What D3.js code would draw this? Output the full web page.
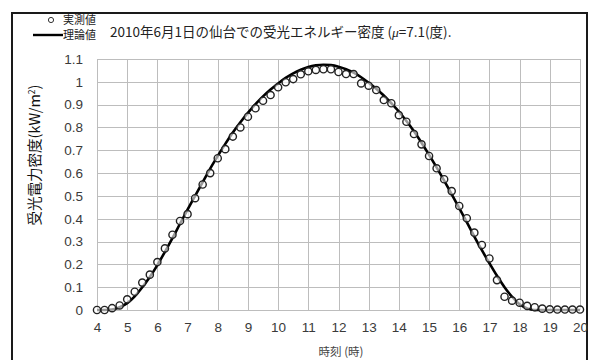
<!DOCTYPE html>
<html>
<head>
<meta charset="utf-8">
<script src="https://cdn.jsdelivr.net/npm/d3@7"></script>
<style>
  html, body { margin: 0; padding: 0; background: #fff; }
  #wrap { position: relative; width: 590px; height: 360px; overflow: hidden; }
  #frame { position: absolute; left: 11px; top: 12px; width: 577px; height: 400px; border: 2px solid #1a1a1a; box-sizing: border-box; }
  svg { display: block; position: absolute; left: 0; top: 0; }
  text { font-family: "Noto Sans CJK JP", "Liberation Sans", sans-serif; }
</style>
</head>
<body>
<div id="wrap">
<div id="frame"></div>
<svg id="chart" width="590" height="360"></svg>
</div>
<script>
// Time of day (hours), sampled every 15 minutes
const hours = [
  4.0, 4.25, 4.5, 4.75, 5.0, 5.25, 5.5, 5.75, 6.0, 6.25, 6.5, 6.75,
  7.0, 7.25, 7.5, 7.75, 8.0, 8.25, 8.5, 8.75, 9.0, 9.25, 9.5, 9.75,
  10.0, 10.25, 10.5, 10.75, 11.0, 11.25, 11.5, 11.75, 12.0, 12.25, 12.5, 12.75,
  13.0, 13.25, 13.5, 13.75, 14.0, 14.25, 14.5, 14.75, 15.0, 15.25, 15.5, 15.75,
  16.0, 16.25, 16.5, 16.75, 17.0, 17.25, 17.5, 17.75, 18.0, 18.25, 18.5, 18.75,
  19.0, 19.25, 19.5, 19.75, 20.0
];

// Measured received power density (kW/m^2)
const measured = [
  0.000, 0.000, 0.008, 0.020, 0.047, 0.080, 0.120, 0.155, 0.210, 0.270, 0.330, 0.390,
  0.420, 0.490, 0.550, 0.600, 0.665, 0.705, 0.760, 0.800, 0.847, 0.884, 0.917, 0.942,
  0.976, 0.998, 1.012, 1.033, 1.046, 1.052, 1.055, 1.055, 1.043, 1.034, 1.034, 0.993,
  0.983, 0.964, 0.920, 0.906, 0.854, 0.825, 0.771, 0.726, 0.675, 0.621, 0.573, 0.521,
  0.456, 0.402, 0.339, 0.285, 0.226, 0.131, 0.058, 0.041, 0.032, 0.018, 0.012, 0.006,
  0.003, 0.002, 0.002, 0.002, 0.002
];

// Theoretical received power density (kW/m^2)
const theory = [
  0.000, 0.000, 0.002, 0.012, 0.030, 0.060, 0.100, 0.145, 0.197, 0.255, 0.315, 0.378,
  0.440, 0.500, 0.560, 0.620, 0.675, 0.728, 0.778, 0.823, 0.864, 0.902, 0.936, 0.966,
  0.993, 1.017, 1.037, 1.053, 1.065, 1.072, 1.075, 1.073, 1.066, 1.055, 1.040, 1.020,
  0.996, 0.970, 0.940, 0.906, 0.870, 0.828, 0.783, 0.733, 0.680, 0.625, 0.567, 0.507,
  0.447, 0.385, 0.322, 0.262, 0.205, 0.150, 0.100, 0.058, 0.025, 0.007, 0.000, 0.000,
  0.000, 0.000, 0.000, 0.000, 0.000
];

const xTicks = d3.range(4, 21, 1);
const yTicks = [0, 0.1, 0.2, 0.3, 0.4, 0.5, 0.6, 0.7, 0.8, 0.9, 1, 1.1];

const svg = d3.select("#chart");

const plot = { left: 97, right: 580, top: 59, bottom: 310 };

const x = d3.scaleLinear().domain([4, 20]).range([plot.left, plot.right]);
const y = d3.scaleLinear().domain([0, 1.1]).range([plot.bottom, plot.top]);

// Gridlines
const grid = svg.append("g").attr("stroke", "#bdbdbd").attr("stroke-width", 1);
grid.selectAll("line.v").data(xTicks).join("line")
  .attr("x1", d => Math.round(x(d)) + 0.5).attr("x2", d => Math.round(x(d)) + 0.5)
  .attr("y1", plot.top).attr("y2", plot.bottom);
grid.selectAll("line.h").data(yTicks).join("line")
  .attr("x1", plot.left).attr("x2", plot.right)
  .attr("y1", d => Math.round(y(d)) + 0.5).attr("y2", d => Math.round(y(d)) + 0.5);

// Axes (labels only)
const fmtY = d => (d === 0 ? "0" : d === 1 ? "1" : d3.format(".1f")(d));
const yAxis = svg.append("g")
  .attr("transform", `translate(${plot.left},0)`)
  .call(d3.axisLeft(y).tickValues(yTicks).tickFormat(fmtY).tickSize(0).tickPadding(14));
yAxis.select(".domain").remove();
yAxis.selectAll("text")
  .attr("font-size", 13.5).attr("fill", "#3a3a3a")
  .style("font-family", "'Liberation Sans', sans-serif");

const xAxis = svg.append("g")
  .attr("transform", `translate(0,${plot.bottom})`)
  .call(d3.axisBottom(x).tickValues(xTicks).tickFormat(d3.format("d")).tickSize(0).tickPadding(12));
xAxis.select(".domain").remove();
xAxis.selectAll("text")
  .attr("font-size", 13.5).attr("fill", "#3a3a3a")
  .style("font-family", "'Liberation Sans', sans-serif");

// Theoretical curve
const pts = hours.map((h, i) => ({ h, m: measured[i], t: theory[i] }));
svg.append("path")
  .datum(pts)
  .attr("fill", "none")
  .attr("stroke", "#000")
  .attr("stroke-width", 2.6)
  .attr("d", d3.line().x(d => x(d.h)).y(d => y(d.t)).curve(d3.curveMonotoneX));

// Measured points
svg.append("g").selectAll("circle").data(pts).join("circle")
  .attr("cx", d => x(d.h)).attr("cy", d => y(d.m))
  .attr("r", 3.6)
  .attr("fill", "#fff").attr("fill-opacity", 0.6)
  .attr("stroke", "#222").attr("stroke-width", 1.4);

// Axis titles
const yTitle = svg.append("text")
  .attr("transform", "translate(40,155) rotate(-90)")
  .attr("text-anchor", "middle")
  .attr("font-size", 14.5).attr("fill", "#111");
yTitle.append("tspan").text("受光電力密度(kW/m");
yTitle.append("tspan").attr("font-size", 8.5).attr("dy", -5).text("2");
yTitle.append("tspan").attr("dy", 5).text(")");

svg.append("text")
  .attr("x", 341).attr("y", 356)
  .attr("text-anchor", "middle")
  .attr("font-size", 11.5).attr("fill", "#444")
  .text("時刻 (時)");

// Legend
svg.append("circle").attr("cx", 51).attr("cy", 20).attr("r", 2.6)
  .attr("fill", "#fff").attr("stroke", "#333").attr("stroke-width", 1);
svg.append("text").attr("x", 63).attr("y", 24).attr("font-size", 11).attr("fill", "#222").text("実測値");
svg.append("line").attr("x1", 33).attr("x2", 63).attr("y1", 35).attr("y2", 35)
  .attr("stroke", "#000").attr("stroke-width", 2.4);
svg.append("text").attr("x", 63).attr("y", 38.5).attr("font-size", 11).attr("fill", "#222").text("理論値");

// Title
const title = svg.append("text").attr("x", 110).attr("y", 37)
  .attr("font-size", 13.5).attr("fill", "#222");
title.append("tspan").text("2010年6月1日の仙台での受光エネルギー密度 (");
title.append("tspan").attr("font-style", "italic").style("font-family", "'Liberation Serif', serif").text("μ");
title.append("tspan").text("=7.1(度).");
</script>
</body>
</html>
